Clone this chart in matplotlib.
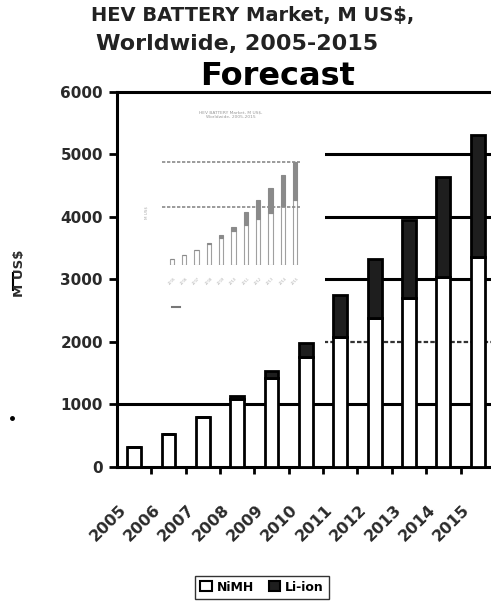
import numpy as np
import matplotlib
matplotlib.use("Agg")
import matplotlib.pyplot as plt
from matplotlib.patches import Rectangle, Patch
from matplotlib.lines import Line2D
from matplotlib.transforms import ScaledTranslation

years = ["2005", "2006", "2007", "2008", "2009", "2010",
         "2011", "2012", "2013", "2014", "2015"]
nimh = [320, 520, 800, 1080, 1420, 1750, 2070, 2380, 2700, 3040, 3360]
li_ion = [0, 0, 0, 60, 110, 230, 680, 950, 1250, 1600, 1950]
y_ticks = [0, 1000, 2000, 3000, 4000, 5000, 6000]

plt.rcParams['font.family'] = ['DejaVu Sans']

fig = plt.figure(figsize=(4.91, 6.04), dpi=100)
ax = fig.add_axes([0.238, 0.227, 0.770, 0.621])

x = np.arange(len(years))
nimh = np.array(nimh)
li_ion = np.array(li_ion)

# gridlines drawn as plain lines so the white panel can sit over some of them
for v in y_ticks[1:-1]:
    if v == 2000:
        ax.axhline(v, color='#333333', lw=1.6, ls=(0, (2, 1)), zorder=1)
    else:
        ax.axhline(v, color='black', lw=2.2, zorder=1)

# white panel holding the small pasted chart
ax.add_patch(Rectangle((0.005, 0.24), 0.545, 0.745, transform=ax.transAxes,
                       facecolor='white', edgecolor='none', zorder=2.2))

ax.bar(x, nimh, width=0.4, color='white', edgecolor='black', lw=2, zorder=3,
       label='NiMH')
ax.bar(x, li_ion, width=0.4, bottom=nimh, color='#1e1e1e', edgecolor='black',
       lw=2, zorder=3, label='Li-ion')

ax.set_xlim(-0.5, len(years) - 0.5)
ax.set_ylim(0, 6000)
ax.set_yticks(y_ticks)
ax.set_yticklabels([str(v) for v in y_ticks], fontsize=11, fontweight='bold',
                   color='#2a2a2a')
ax.tick_params(axis='y', direction='inout', length=12, width=2, pad=4)

ax.set_xticks(x)
ax.set_xticklabels(years, rotation=45, ha='right', va='center',
                   rotation_mode='anchor', fontsize=11.5, fontweight='bold',
                   color='#2a2a2a')
ax.set_xticks(np.arange(len(years)) + 0.5, minor=True)
ax.tick_params(axis='x', which='major', length=0, pad=29)
ax.tick_params(axis='x', which='minor', direction='out', length=5, width=2)
# nudge the slanted year labels a little to the left of each bar
shift = ScaledTranslation(-7.5 / 72, 0, fig.dpi_scale_trans)
for lab in ax.get_xticklabels():
    lab.set_transform(lab.get_transform() + shift)

for side in ['left', 'bottom', 'top']:
    ax.spines[side].set_linewidth(2.2)
ax.spines['right'].set_visible(False)

# small faded chart inside the white panel
mini = fig.add_axes([0.330, 0.561, 0.281, 0.174], facecolor='none', zorder=5)
mini.bar(x, nimh, width=0.35, color='white', edgecolor='#a0a0a0', lw=0.8)
mini.bar(x, li_ion, width=0.35, bottom=nimh, color='#8a8a8a',
         edgecolor='#8a8a8a', lw=0.8)
mini.axhline(5300, color='#8a8a8a', lw=1.2, ls=(0, (2, 1)))
mini.axhline(3000, color='#8a8a8a', lw=1.2, ls=(0, (2, 1)))
mini.set_xlim(-0.8, len(years) - 0.6)
mini.set_ylim(0, 5400)
mini.set_xticks(x)
mini.set_xticklabels(years, rotation=45, fontsize=2.5, color='#aaaaaa')
mini.set_yticks([])
mini.tick_params(length=0, pad=8)
for s in mini.spines.values():
    s.set_visible(False)
mini.set_title("HEV BATTERY Market, M US$,\nWorldwide, 2005-2015",
               fontsize=3.2, color='#999999', pad=30)
mini.set_ylabel("M US$", fontsize=3, color='#aaaaaa', labelpad=10)
fig.add_artist(Line2D([0.351, 0.366], [0.492, 0.492], color='#777777', lw=1.5))

fig.text(0.515, 0.975, "HEV BATTERY Market, M US$,", ha='center', va='center',
         fontsize=14, fontweight='bold', color='#222222')
fig.text(0.482, 0.927, "Worldwide, 2005-2015", ha='center', va='center',
         fontsize=16, fontweight='bold', color='#222222')
fig.text(0.566, 0.873, "Forecast", ha='center', va='center',
         fontsize=23, fontweight='bold', color='black')

fig.text(0.040, 0.548, "M US$", rotation=90, ha='center', va='center',
         fontsize=9.5, fontweight='bold', color='#2a2a2a')
fig.add_artist(Line2D([0.027, 0.027], [0.520, 0.548], color='black', lw=1.5))
fig.add_artist(Line2D([0.025], [0.308], marker='o', markersize=2.5,
                      color='black', lw=0))

fig.legend(handles=[Patch(facecolor='white', edgecolor='black', lw=1.5, label='NiMH'),
                    Patch(facecolor='#1e1e1e', edgecolor='black', lw=1.5, label='Li-ion')],
           loc='center', bbox_to_anchor=(0.534, 0.028), ncol=2,
           frameon=True, fancybox=False, edgecolor='black', handlelength=0.9,
           handleheight=0.9, handletextpad=0.4, columnspacing=1.2,
           borderpad=0.4, prop={'weight': 'bold', 'size': 9})

fig.savefig("out.png", dpi=100)
